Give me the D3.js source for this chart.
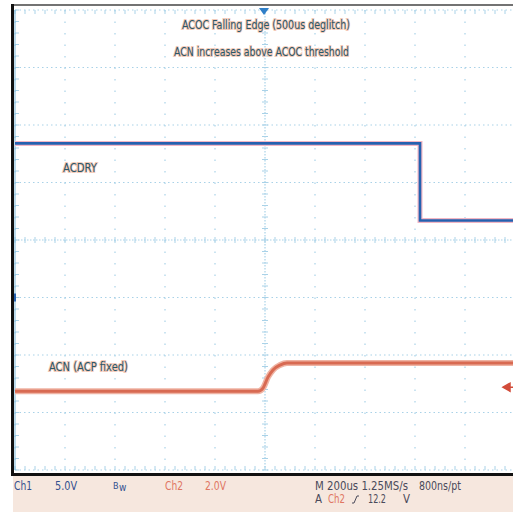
<!DOCTYPE html>
<html>
<head>
<meta charset="utf-8">
<script src="https://cdn.jsdelivr.net/npm/d3@7"></script>
<style>
  html, body { margin: 0; padding: 0; background: #fff; }
  svg { display: block; }
  text { font-family: "DejaVu Sans Condensed", "Liberation Sans Narrow", "Roboto Condensed", sans-serif; font-stretch: condensed; }
</style>
</head>
<body>
<svg id="chart" width="513" height="512"></svg>
<script>
// ch1 (ACDRY), 5.0V/div, time in us from trigger
const ch1Time = [-1000, 620, 620, 1010];
const ch1Volts = [13.4, 13.4, 6.7, 6.7];

// ch2 (ACN), 2.0V/div
const ch2Time = [-1000, -28, -8, 12, 32, 60, 88, 1010];
const ch2Volts = [-0.14, -0.14, -0.03, 0.35, 0.6, 0.77, 0.84, 0.84];

const notes = ['ACOC Falling Edge (500us deglitch)', 'ACN increases above ACOC threshold'];
const traceLabels = ['ACDRY', 'ACN (ACP fixed)'];

const ch1Div = 5.0, ch1Offset = -1.0;   // ground marker one div below centre
const ch2Div = 2.0, ch2Offset = -2.56;

const svg = d3.select('#chart');

const x = d3.scaleLinear().domain([-1000, 1000]).range([15, 515]);
const yDiv = d3.scaleLinear().domain([-4, 4]).range([470, 10]);
const y1 = v => yDiv(v / ch1Div + ch1Offset);
const y2 = v => yDiv(v / ch2Div + ch2Offset);

const gridCol = '#a9d2e8';

// status bar background
svg.append('rect').attr('x', 13).attr('y', 476).attr('width', 500).attr('height', 36).attr('fill', '#f6e7de');

// grid
const grid = svg.append('g');
const majX = d3.range(-1000, 1001, 200);
const majY = d3.range(-4, 5, 1);
grid.selectAll('line.vx').data(majX).join('line')
  .attr('x1', d => x(d)).attr('x2', d => x(d))
  .attr('y1', yDiv(4)).attr('y2', yDiv(-4))
  .attr('stroke', gridCol).attr('stroke-width', 1.2)
  .attr('stroke-dasharray', d => d === 0 ? '1.5,1.5' : '1.5,10');
grid.selectAll('line.hy').data(majY).join('line')
  .attr('x1', x(-1000)).attr('x2', x(1000))
  .attr('y1', d => yDiv(d)).attr('y2', d => yDiv(d))
  .attr('stroke', gridCol).attr('stroke-width', 1.2)
  .attr('stroke-dasharray', d => d === 0 ? '1.5,1.5' : '1.5,3');

// minor ticks along centre axes and edges
const minX = d3.range(-1000, 1001, 40);
const minY = d3.range(-4, 4.01, 0.2);
grid.selectAll('line.tx').data(minX).join('line')
  .attr('x1', d => x(d)).attr('x2', d => x(d))
  .attr('y1', yDiv(0) - 3).attr('y2', yDiv(0) + 3)
  .attr('stroke', gridCol).attr('stroke-width', 1);
grid.selectAll('line.tx2').data(minX).join('line')
  .attr('x1', d => x(d)).attr('x2', d => x(d))
  .attr('y1', yDiv(-4) - 4).attr('y2', yDiv(-4))
  .attr('stroke', gridCol).attr('stroke-width', 1);
grid.selectAll('line.tx3').data(minX).join('line')
  .attr('x1', d => x(d)).attr('x2', d => x(d))
  .attr('y1', yDiv(4)).attr('y2', yDiv(4) + 4)
  .attr('stroke', gridCol).attr('stroke-width', 1);
grid.selectAll('line.ty').data(minY).join('line')
  .attr('x1', x(0) - 3).attr('x2', x(0) + 3)
  .attr('y1', d => yDiv(d)).attr('y2', d => yDiv(d))
  .attr('stroke', gridCol).attr('stroke-width', 1);
grid.selectAll('line.ty2').data(minY).join('line')
  .attr('x1', x(-1000)).attr('x2', x(-1000) + 4)
  .attr('y1', d => yDiv(d)).attr('y2', d => yDiv(d))
  .attr('stroke', gridCol).attr('stroke-width', 1);
grid.append('line')
  .attr('x1', x(-1000)).attr('x2', x(-1000)).attr('y1', yDiv(4)).attr('y2', yDiv(-4))
  .attr('stroke', '#7ab8da').attr('stroke-width', 1);

// traces
const line1 = d3.line().x((d, i) => x(ch1Time[i])).y(d => y1(d));
const line2 = d3.line().x((d, i) => x(ch2Time[i])).y(d => y2(d)).curve(d3.curveMonotoneX);

svg.append('path').datum(ch1Volts).attr('d', line1)
  .attr('fill', 'none').attr('stroke', '#f2b6c4').attr('stroke-width', 5).attr('stroke-linejoin', 'miter');
svg.append('path').datum(ch1Volts).attr('d', line1)
  .attr('fill', 'none').attr('stroke', '#2461b0').attr('stroke-width', 2.6).attr('stroke-linejoin', 'miter');

svg.append('path').datum(ch2Volts).attr('d', line2)
  .attr('fill', 'none').attr('stroke', '#efb3a3').attr('stroke-width', 6);
svg.append('path').datum(ch2Volts).attr('d', line2)
  .attr('fill', 'none').attr('stroke', '#d86a52').attr('stroke-width', 3);

// channel markers
svg.append('rect').attr('x', 13).attr('y', y1(0) - 4).attr('width', 3).attr('height', 8).attr('fill', '#2461b0');
svg.append('path')
  .attr('d', `M503,${y2(0)} l7,-4 v8 z M507,${y2(0)} h8`)
  .attr('fill', '#d24c3a').attr('stroke', '#d24c3a').attr('stroke-width', 1.5);

// trigger marker
svg.append('path').attr('d', `M${x(-4) - 5},8 h10 l-5,7 z`).attr('fill', '#2f7fc8');

// frame
svg.append('line').attr('x1', 12).attr('x2', 513).attr('y1', 5).attr('y2', 5).attr('stroke', '#444').attr('stroke-width', 1.5);
svg.append('line').attr('x1', 12.5).attr('x2', 12.5).attr('y1', 4).attr('y2', 476).attr('stroke', '#111').attr('stroke-width', 3);
svg.append('line').attr('x1', 11).attr('x2', 513).attr('y1', 474.5).attr('y2', 474.5).attr('stroke', '#111').attr('stroke-width', 3);

// annotations
const textCol = '#2a5868';
const halo = t => t.attr('stroke', '#f3c9b8').attr('stroke-width', 2).attr('paint-order', 'stroke');
svg.append('text').text(notes[0]).attr('x', 182).attr('y', 29)
  .attr('font-size', 13).attr('textLength', 168).attr('lengthAdjust', 'spacingAndGlyphs')
  .attr('fill', textCol).call(halo);
svg.append('text').text(notes[1]).attr('x', 174).attr('y', 56)
  .attr('font-size', 13).attr('textLength', 175).attr('lengthAdjust', 'spacingAndGlyphs')
  .attr('fill', textCol).call(halo);
svg.append('text').text(traceLabels[0]).attr('x', 63).attr('y', 172)
  .attr('font-size', 13).attr('textLength', 34).attr('lengthAdjust', 'spacingAndGlyphs')
  .attr('fill', textCol).call(halo);
svg.append('text').text(traceLabels[1]).attr('x', 49).attr('y', 371)
  .attr('font-size', 13).attr('textLength', 79).attr('lengthAdjust', 'spacingAndGlyphs')
  .attr('fill', textCol).call(halo);

// status bar readouts
const blueTxt = '#33508f', orgTxt = '#e07662', darkTxt = '#4a4a5a';
const status = [
  { t: 'Ch1', x: 14, y: 490, w: 18, c: blueTxt },
  { t: '5.0V', x: 55, y: 490, w: 22, c: blueTxt },
  { t: 'Ch2', x: 165, y: 490, w: 18, c: orgTxt },
  { t: '2.0V', x: 205, y: 490, w: 21, c: orgTxt },
  { t: 'M 200us 1.25MS/s', x: 315, y: 490, w: 93, c: darkTxt },
  { t: '800ns/pt', x: 419, y: 490, w: 42, c: darkTxt },
  { t: 'A', x: 315, y: 503, w: 7, c: darkTxt },
  { t: 'Ch2', x: 328, y: 503, w: 17, c: orgTxt },
  { t: '12.2', x: 368, y: 503, w: 18, c: darkTxt },
  { t: 'V', x: 403, y: 503, w: 7, c: darkTxt }
];
svg.selectAll('text.st').data(status).join('text')
  .attr('class', 'st').text(d => d.t).attr('x', d => d.x).attr('y', d => d.y)
  .attr('font-size', 12).attr('textLength', d => d.w).attr('lengthAdjust', 'spacingAndGlyphs')
  .attr('fill', d => d.c);
// bandwidth limit glyph and slope glyph
svg.append('text').attr('x', 113).attr('y', 489).attr('font-size', 9).attr('fill', blueTxt).text('B');
svg.append('text').attr('x', 119).attr('y', 491).attr('font-size', 10).attr('fill', blueTxt).text('w');
svg.append('path').attr('d', 'M352,503 h2 l3,-7 h2').attr('fill', 'none').attr('stroke', darkTxt).attr('stroke-width', 1);
</script>
</body>
</html>
